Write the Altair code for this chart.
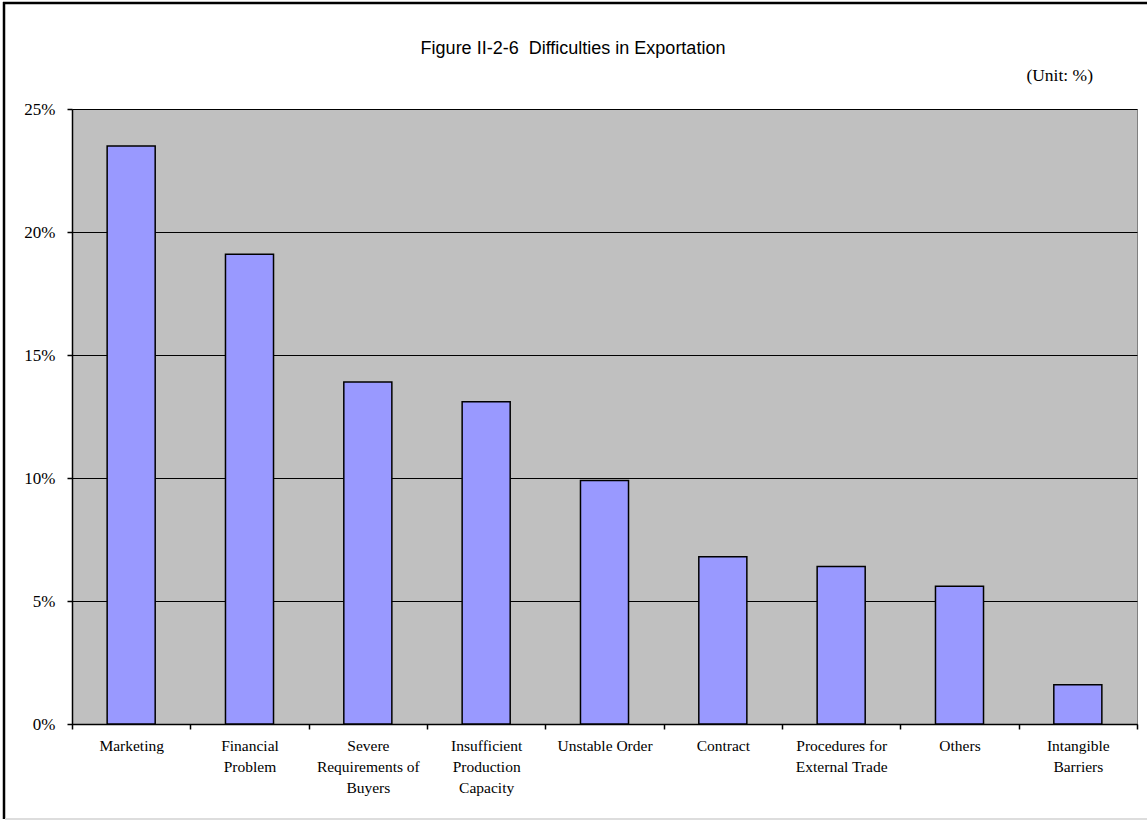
import altair as alt
import pandas as pd

# ---- data ----
categories = [
    "Marketing",
    "Financial Problem",
    "Severe Requirements of Buyers",
    "Insufficient Production Capacity",
    "Unstable Order",
    "Contract",
    "Procedures for External Trade",
    "Others",
    "Intangible Barriers",
]
label_lines = [
    ["Marketing"],
    ["Financial", "Problem"],
    ["Severe", "Requirements of", "Buyers"],
    ["Insufficient", "Production", "Capacity"],
    ["Unstable Order"],
    ["Contract"],
    ["Procedures for", "External Trade"],
    ["Others"],
    ["Intangible", "Barriers"],
]
values = [23.5, 19.1, 13.9, 13.1, 9.9, 6.8, 6.4, 5.6, 1.6]
y_ticks = [0, 5, 10, 15, 20, 25]

title_text = "Figure II-2-6\u00a0 Difficulties in Exportation"
unit_text = "(Unit: %)"

df = pd.DataFrame({"category": categories, "value": values})

W, H = 1065, 615
PAD_L, PAD_T = 72, 109

cats_js = "[" + ",".join("'" + c + "'" for c in categories) + "]"
lines_js = "[" + ",".join("[" + ",".join("'" + s + "'" for s in l) + "]" for l in label_lines) + "]"
label_expr = f"{lines_js}[indexof({cats_js}, datum.label)]"

serif = "Liberation Serif"

bars = alt.Chart(df).mark_bar(
    fill="#9999FF", stroke="black", strokeWidth=1.5,
    width=alt.RelativeBandSize(0.406),
).encode(
    x=alt.X(
        "category:N", sort=categories,
        scale=alt.Scale(paddingInner=0, paddingOuter=0),
        axis=alt.Axis(
            title=None, labelAngle=0, tickBand="extent", labelExpr=label_expr,
            labelFont=serif, labelFontSize=15.5, labelColor="black",
            labelLineHeight=21, labelPadding=9, labelBaseline="top",
            tickSize=5, tickColor="black", tickWidth=1.5,
            domainColor="black", domainWidth=1.5, grid=False,
        ),
    ),
    y=alt.Y(
        "value:Q", scale=alt.Scale(domain=[0, 25], nice=False),
        axis=alt.Axis(
            title=None, values=y_ticks, labelExpr="datum.value + '%'",
            labelFont=serif, labelFontSize=17, labelColor="black", labelPadding=12,
            tickSize=5, tickColor="black", tickWidth=1.5,
            domainColor="black", domainWidth=1.5,
            grid=True, gridColor="black", gridWidth=1,
        ),
    ),
    tooltip=["category", "value"],
)

one = pd.DataFrame({"k": [0]})

title = alt.Chart(one).mark_text(
    text=title_text, font="Liberation Sans", fontSize=18, align="center",
    baseline="alphabetic", color="black",
).encode(x=alt.value(573 - PAD_L), y=alt.value(54 - PAD_T))

unit = alt.Chart(one).mark_text(
    text=unit_text, font=serif, fontSize=17.5, align="right", baseline="middle", color="black"
).encode(x=alt.value(1093 - PAD_L), y=alt.value(76 - PAD_T))

frame_top = alt.Chart(one).mark_rule(color="black", strokeWidth=2.5).encode(
    x=alt.value(3 - PAD_L), x2=alt.value(1160 - PAD_L), y=alt.value(3 - PAD_T)
)
frame_left = alt.Chart(one).mark_rule(color="black", strokeWidth=2.5).encode(
    x=alt.value(4 - PAD_L), y=alt.value(2 - PAD_T), y2=alt.value(819 - PAD_T)
)
frame_bottom = alt.Chart(one).mark_rule(color="#dddddd", strokeWidth=2).encode(
    x=alt.value(5 - PAD_L), x2=alt.value(1160 - PAD_L), y=alt.value(819 - PAD_T)
)

chart = alt.layer(bars, title, unit, frame_top, frame_left, frame_bottom).properties(
    width=W, height=H,
    padding={"left": PAD_L, "top": PAD_T, "right": 1147 - PAD_L - W, "bottom": 821 - PAD_T - H},
    autosize=alt.AutoSizeParams(type="none"),
    background="white",
).configure_view(
    fill="#C0C0C0", stroke="#808080", strokeWidth=1
)

chart.save("out.html", embed_options={"renderer": "svg", "actions": False})
